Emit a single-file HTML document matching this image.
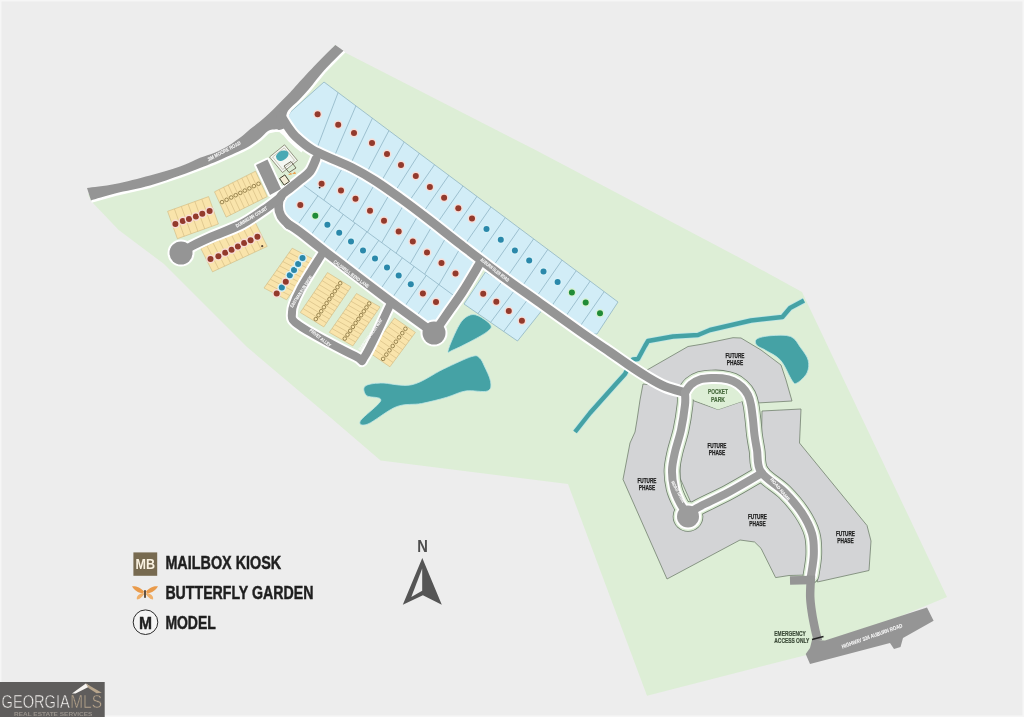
<!DOCTYPE html>
<html><head><meta charset="utf-8"><style>
html,body{margin:0;padding:0;background:#ededed;}
body{width:1024px;height:717px;overflow:hidden;position:relative;font-family:"Liberation Sans",sans-serif;}
</style></head><body>
<svg width="1024" height="717" viewBox="0 0 1024 717" style="display:block;will-change:transform;filter:blur(0.4px)">
<rect width="1024" height="717" fill="#ededed"/>
<rect x="0.5" y="0.5" width="1023" height="716" fill="none" stroke="#f6f6f6" stroke-width="2"/>
<polygon points="91.0,201.0 118.7,230.0 164.0,264.0 247.0,347.0 331.0,418.0 380.6,460.6 568.0,484.0 647.0,695.7 807.5,654.7 947.0,597.0 802.0,292.0 740.0,258.0 535.5,150.0 344.0,52.0 335.0,45.0 300.0,90.0 262.0,125.0 230.0,146.0 200.0,162.0 150.0,180.0 88.0,194.0" fill="#ddeed6" stroke="none" stroke-width="0" stroke-linejoin="round" />
<path d="M365.0,386.3 C367.4,384.2 373.0,383.3 380.8,383.0 C388.6,382.7 401.6,387.0 412.0,384.7 C422.4,382.4 433.5,373.7 443.5,369.0 C453.5,364.3 465.8,358.3 471.8,356.5 C477.8,354.7 477.5,356.4 479.6,358.0 C481.7,359.6 482.5,362.1 484.3,366.0 C486.1,369.9 490.1,377.4 490.6,381.6 C491.1,385.8 491.7,389.4 487.5,391.0 C483.3,392.6 472.3,389.9 465.5,391.0 C458.7,392.1 454.0,395.2 446.7,397.3 C439.4,399.4 430.0,401.9 421.6,403.5 C413.2,405.1 405.4,403.3 396.5,406.7 C387.6,410.1 374.0,421.6 368.0,424.0 C362.0,426.4 358.3,424.7 360.4,420.8 C362.5,416.9 379.8,404.6 380.8,400.4 C381.9,396.2 369.3,398.0 366.7,395.7 C364.1,393.4 362.6,388.4 365.0,386.3Z" fill="#45a2a5" stroke="#bfe6e6" stroke-width="0.8"/>
<path d="M448.2,350.2 C449.2,346.0 455.8,330.8 459.2,325.0 C462.6,319.2 465.5,317.2 468.6,315.7 C471.7,314.1 474.3,314.1 478.0,315.7 C481.7,317.2 489.0,322.4 490.6,325.0 C492.2,327.6 490.6,328.8 487.5,331.4 C484.4,334.0 477.6,337.7 471.8,340.8 C466.1,343.9 456.9,348.4 453.0,350.0 C449.1,351.6 447.2,354.4 448.2,350.2Z" fill="#45a2a5" stroke="#bfe6e6" stroke-width="0.8"/>
<path d="M756.8,339.0 C759.1,337.4 765.0,336.1 770.6,335.7 C776.2,335.3 785.7,334.5 790.7,336.5 C795.7,338.5 797.8,343.8 800.7,347.8 C803.6,351.8 807.2,356.1 808.2,360.3 C809.2,364.5 808.9,369.1 807.0,372.9 C805.1,376.7 799.5,381.8 797.0,383.0 C794.5,384.2 794.7,384.2 792.0,380.4 C789.3,376.6 785.0,365.3 780.6,360.3 C776.2,355.3 769.6,352.8 765.6,350.3 C761.6,347.8 758.3,347.2 756.8,345.3 C755.3,343.4 754.5,340.6 756.8,339.0Z" fill="#45a2a5" stroke="#bfe6e6" stroke-width="0.8"/>
<polyline points="804.0,300.5 790.0,308.0 782.4,317.0 751.0,320.5 710.0,330.0 698.0,335.0 673.0,336.5 648.0,341.0 645.0,346.0 638.0,359.0 633.0,359.5 629.0,366.0 625.0,374.0 615.0,385.0 590.0,413.0 575.0,432.0" fill="none" stroke="#bfe6e6" stroke-width="6" stroke-linejoin="round"/>
<polyline points="804.0,300.5 790.0,308.0 782.4,317.0 751.0,320.5 710.0,330.0 698.0,335.0 673.0,336.5 648.0,341.0 645.0,346.0 638.0,359.0 633.0,359.5 629.0,366.0 625.0,374.0 615.0,385.0 590.0,413.0 575.0,432.0" fill="none" stroke="#45a2a5" stroke-width="4.4" stroke-linejoin="round"/>
<polygon points="647.0,370.0 688.0,346.5 703.0,344.0 733.0,337.7 741.0,338.0 761.0,350.0 781.0,365.0 786.0,380.0 792.0,401.0 757.0,403.0 752.0,392.0 740.0,382.0 720.0,379.0 700.0,384.0 684.0,393.0 665.0,384.0" fill="#d3d4d6" stroke="#72826f" stroke-width="0.8" stroke-linejoin="round" />
<polygon points="643.0,384.0 640.0,400.0 637.0,420.0 635.0,432.0 630.0,443.0 623.0,479.4 667.0,579.0 740.0,540.0 754.6,542.0 761.0,548.3 775.6,577.6 789.0,575.5 808.0,575.0 808.0,540.0 795.0,505.0 770.0,478.0 760.0,472.0 690.0,512.0 676.0,480.0 678.0,420.0 680.0,396.0 660.0,386.0" fill="#d3d4d6" stroke="#72826f" stroke-width="0.8" stroke-linejoin="round" />
<polygon points="686.0,398.0 718.0,409.5 746.0,400.0 751.0,440.0 757.0,470.0 692.0,505.0 680.0,478.0 680.0,420.0" fill="#d3d4d6" stroke="#72826f" stroke-width="0.8" stroke-linejoin="round" />
<polygon points="762.0,411.0 801.0,409.0 799.5,443.0 867.0,525.5 871.0,541.0 869.0,570.5 817.4,582.0 816.0,560.0 815.0,530.0 800.0,505.0 775.0,480.0 764.0,462.0 761.5,440.0" fill="#d3d4d6" stroke="#72826f" stroke-width="0.8" stroke-linejoin="round" />
<defs>
<clipPath id="cU"><polygon points="324.0,82.0 618.0,302.0 597.0,334.0 585.0,334.0 460.0,240.0 400.0,196.0 365.0,174.0 335.0,158.0 306.0,144.0 292.0,132.0 287.6,122.0 288.0,116.0 291.0,111.5"/></clipPath>
<clipPath id="cL"><polygon points="315.0,158.0 335.0,166.0 365.0,180.0 400.0,203.0 460.0,248.0 484.0,264.0 460.0,300.0 434.0,332.0 390.0,302.0 323.0,252.0 292.0,228.0 278.0,210.0 279.0,200.0 290.0,188.0 303.0,172.0"/></clipPath>
<clipPath id="cR"><polygon points="464.0,304.0 485.5,272.0 543.0,309.0 517.5,341.0"/></clipPath>
<clipPath id="cLU"><polygon points="250.0,145.9 520.0,344.1 520.0,100.0 250.0,100.0"/></clipPath>
<clipPath id="cLL"><polygon points="250.0,145.9 520.0,344.1 520.0,400.0 250.0,400.0"/></clipPath>
</defs>
<polygon points="324.0,82.0 618.0,302.0 597.0,334.0 585.0,334.0 460.0,240.0 400.0,196.0 365.0,174.0 335.0,158.0 306.0,144.0 292.0,132.0 287.6,122.0 288.0,116.0 291.0,111.5" fill="#d2edf7" stroke="#86adbf" stroke-width="0.7" stroke-linejoin="round" />
<polygon points="315.0,158.0 335.0,166.0 365.0,180.0 400.0,203.0 460.0,248.0 484.0,264.0 460.0,300.0 434.0,332.0 390.0,302.0 323.0,252.0 292.0,228.0 278.0,210.0 279.0,200.0 290.0,188.0 303.0,172.0" fill="#d2edf7" stroke="#86adbf" stroke-width="0.7" stroke-linejoin="round" />
<polygon points="464.0,304.0 485.5,272.0 543.0,309.0 517.5,341.0" fill="#d2edf7" stroke="#86adbf" stroke-width="0.7" stroke-linejoin="round" />
<g clip-path="url(#cU)" stroke="#86adbf" stroke-width="0.7"><line x1="342.1" y1="82.1" x2="313.7" y2="156.8"/><line x1="361.8" y1="92.1" x2="330.4" y2="165.6"/><line x1="380.2" y1="101.9" x2="345.8" y2="174.1"/><line x1="398.2" y1="113.1" x2="360.8" y2="183.9"/><line x1="414.1" y1="124.9" x2="373.9" y2="194.1"/><line x1="429.9" y1="136.8" x2="386.9" y2="204.2"/><line x1="445.7" y1="148.7" x2="400.0" y2="214.3"/><line x1="459.8" y1="159.5" x2="414.2" y2="225.2"/><line x1="474.0" y1="170.2" x2="428.4" y2="235.8"/><line x1="488.0" y1="180.6" x2="442.3" y2="246.3"/><line x1="502.1" y1="191.0" x2="456.4" y2="256.6"/><line x1="516.5" y1="201.5" x2="470.8" y2="267.2"/><line x1="530.7" y1="212.3" x2="485.0" y2="277.9"/><line x1="544.9" y1="222.7" x2="499.2" y2="288.3"/><line x1="559.2" y1="233.1" x2="513.5" y2="298.8"/><line x1="573.4" y1="243.9" x2="527.7" y2="309.5"/><line x1="587.6" y1="254.4" x2="541.9" y2="320.1"/><line x1="601.6" y1="264.7" x2="556.0" y2="330.3"/><line x1="615.7" y1="275.1" x2="570.0" y2="340.7"/></g>
<g clip-path="url(#cL)">
<g clip-path="url(#cLU)" stroke="#86adbf" stroke-width="0.7"><line x1="351.4" y1="152.6" x2="311.2" y2="221.8"/><line x1="368.4" y1="160.1" x2="328.1" y2="229.3"/><line x1="382.9" y1="170.2" x2="342.6" y2="239.3"/><line x1="397.1" y1="181.1" x2="356.9" y2="250.3"/><line x1="411.5" y1="191.5" x2="371.2" y2="260.7"/><line x1="425.9" y1="202.0" x2="385.6" y2="271.1"/><line x1="440.0" y1="212.4" x2="399.8" y2="281.6"/><line x1="454.4" y1="223.1" x2="414.1" y2="292.3"/><line x1="468.6" y1="233.7" x2="428.4" y2="302.8"/></g>
<g clip-path="url(#cLL)" stroke="#86adbf" stroke-width="0.7"><line x1="330.6" y1="177.5" x2="285.0" y2="243.2"/><line x1="344.2" y1="187.4" x2="298.5" y2="253.0"/><line x1="356.1" y1="195.9" x2="310.5" y2="261.6"/><line x1="367.9" y1="204.4" x2="322.3" y2="270.0"/><line x1="379.8" y1="213.2" x2="334.2" y2="278.8"/><line x1="391.8" y1="221.6" x2="346.2" y2="287.2"/><line x1="403.8" y1="230.1" x2="358.2" y2="295.7"/><line x1="415.7" y1="238.6" x2="370.0" y2="304.3"/><line x1="427.6" y1="247.1" x2="381.9" y2="312.7"/><line x1="439.7" y1="256.1" x2="394.0" y2="321.8"/><line x1="452.3" y1="264.9" x2="406.6" y2="330.6"/></g>
</g>
<line x1="290" y1="175.3" x2="480" y2="314.8" stroke="#86adbf" stroke-width="0.7" clip-path="url(#cL)"/>
<g clip-path="url(#cR)" stroke="#86adbf" stroke-width="0.7"><line x1="513.8" y1="265.8" x2="465.8" y2="329.8"/><line x1="526.5" y1="274.4" x2="478.6" y2="338.4"/><line x1="539.4" y1="283.9" x2="491.4" y2="347.9"/></g>
<polygon points="167.6,211.3 208.6,196.6 218.4,224.0 177.4,238.7" fill="#f9e4ab" stroke="#d0b77e" stroke-width="0.6" stroke-linejoin="round" />
<g stroke="#d0b77e" stroke-width="0.6"><line x1="174.4" y1="208.9" x2="184.2" y2="236.2"/><line x1="181.3" y1="206.4" x2="191.1" y2="233.8"/><line x1="188.1" y1="203.9" x2="197.9" y2="231.4"/><line x1="194.9" y1="201.5" x2="204.7" y2="228.9"/><line x1="201.8" y1="199.1" x2="211.6" y2="226.4"/></g>
<polygon points="214.5,191.8 255.5,171.2 267.2,196.6 226.2,217.1" fill="#f9e4ab" stroke="#d0b77e" stroke-width="0.6" stroke-linejoin="round" />
<g stroke="#d0b77e" stroke-width="0.6"><line x1="219.1" y1="189.5" x2="230.8" y2="214.9"/><line x1="223.6" y1="187.2" x2="235.3" y2="212.6"/><line x1="228.2" y1="185.0" x2="239.9" y2="210.3"/><line x1="232.7" y1="182.7" x2="244.4" y2="208.0"/><line x1="237.3" y1="180.4" x2="249.0" y2="205.7"/><line x1="241.8" y1="178.1" x2="253.5" y2="203.4"/><line x1="246.4" y1="175.8" x2="258.1" y2="201.2"/><line x1="250.9" y1="173.5" x2="262.6" y2="198.9"/></g>
<circle cx="222.0" cy="202.1" r="1.8" fill="none" stroke="#7d6a35" stroke-width="0.75"/>
<circle cx="226.6" cy="199.8" r="1.8" fill="none" stroke="#7d6a35" stroke-width="0.75"/>
<circle cx="231.2" cy="197.5" r="1.8" fill="none" stroke="#7d6a35" stroke-width="0.75"/>
<circle cx="235.7" cy="195.2" r="1.8" fill="none" stroke="#7d6a35" stroke-width="0.75"/>
<circle cx="240.3" cy="192.9" r="1.8" fill="none" stroke="#7d6a35" stroke-width="0.75"/>
<circle cx="244.8" cy="190.6" r="1.8" fill="none" stroke="#7d6a35" stroke-width="0.75"/>
<circle cx="249.4" cy="188.4" r="1.8" fill="none" stroke="#7d6a35" stroke-width="0.75"/>
<circle cx="253.9" cy="186.1" r="1.8" fill="none" stroke="#7d6a35" stroke-width="0.75"/>
<circle cx="258.5" cy="183.8" r="1.8" fill="none" stroke="#7d6a35" stroke-width="0.75"/>
<polygon points="200.8,248.4 255.5,223.0 267.2,246.4 212.5,271.8" fill="#f9e4ab" stroke="#d0b77e" stroke-width="0.6" stroke-linejoin="round" />
<g stroke="#d0b77e" stroke-width="0.6"><line x1="206.9" y1="245.6" x2="218.6" y2="269.0"/><line x1="213.0" y1="242.8" x2="224.7" y2="266.2"/><line x1="219.0" y1="239.9" x2="230.7" y2="263.3"/><line x1="225.1" y1="237.1" x2="236.8" y2="260.5"/><line x1="231.2" y1="234.3" x2="242.9" y2="257.7"/><line x1="237.3" y1="231.5" x2="249.0" y2="254.9"/><line x1="243.3" y1="228.6" x2="255.0" y2="252.0"/><line x1="249.4" y1="225.8" x2="261.1" y2="249.2"/></g>
<polygon points="264.0,288.0 292.2,248.2 314.8,260.0 286.6,299.8" fill="#f9e4ab" stroke="#d0b77e" stroke-width="0.6" stroke-linejoin="round" />
<g stroke="#d0b77e" stroke-width="0.6"><line x1="267.1" y1="283.6" x2="289.7" y2="295.4"/><line x1="270.3" y1="279.2" x2="292.9" y2="291.0"/><line x1="273.4" y1="274.7" x2="296.0" y2="286.5"/><line x1="276.5" y1="270.3" x2="299.1" y2="282.1"/><line x1="279.7" y1="265.9" x2="302.3" y2="277.7"/><line x1="282.8" y1="261.5" x2="305.4" y2="273.3"/><line x1="285.9" y1="257.0" x2="308.5" y2="268.8"/><line x1="289.1" y1="252.6" x2="311.7" y2="264.4"/></g>
<polygon points="300.3,312.5 327.5,272.6 351.0,287.0 323.8,326.9" fill="#f9e4ab" stroke="#d0b77e" stroke-width="0.6" stroke-linejoin="round" />
<g stroke="#d0b77e" stroke-width="0.6"><line x1="303.0" y1="308.5" x2="326.5" y2="322.9"/><line x1="305.7" y1="304.5" x2="329.2" y2="318.9"/><line x1="308.5" y1="300.5" x2="332.0" y2="314.9"/><line x1="311.2" y1="296.5" x2="334.7" y2="310.9"/><line x1="313.9" y1="292.6" x2="337.4" y2="306.9"/><line x1="316.6" y1="288.6" x2="340.1" y2="303.0"/><line x1="319.3" y1="284.6" x2="342.8" y2="299.0"/><line x1="322.1" y1="280.6" x2="345.6" y2="295.0"/><line x1="324.8" y1="276.6" x2="348.3" y2="291.0"/></g>
<circle cx="315.8" cy="319.1" r="1.8" fill="none" stroke="#7d6a35" stroke-width="0.75"/>
<circle cx="318.5" cy="315.2" r="1.8" fill="none" stroke="#7d6a35" stroke-width="0.75"/>
<circle cx="321.2" cy="311.2" r="1.8" fill="none" stroke="#7d6a35" stroke-width="0.75"/>
<circle cx="323.9" cy="307.2" r="1.8" fill="none" stroke="#7d6a35" stroke-width="0.75"/>
<circle cx="326.6" cy="303.2" r="1.8" fill="none" stroke="#7d6a35" stroke-width="0.75"/>
<circle cx="329.4" cy="299.2" r="1.8" fill="none" stroke="#7d6a35" stroke-width="0.75"/>
<circle cx="332.1" cy="295.2" r="1.8" fill="none" stroke="#7d6a35" stroke-width="0.75"/>
<circle cx="334.8" cy="291.2" r="1.8" fill="none" stroke="#7d6a35" stroke-width="0.75"/>
<circle cx="337.5" cy="287.2" r="1.8" fill="none" stroke="#7d6a35" stroke-width="0.75"/>
<circle cx="340.2" cy="283.2" r="1.8" fill="none" stroke="#7d6a35" stroke-width="0.75"/>
<polygon points="329.3,332.4 356.5,293.5 380.0,307.0 352.8,345.9" fill="#f9e4ab" stroke="#d0b77e" stroke-width="0.6" stroke-linejoin="round" />
<g stroke="#d0b77e" stroke-width="0.6"><line x1="332.0" y1="328.5" x2="355.5" y2="342.0"/><line x1="334.7" y1="324.6" x2="358.2" y2="338.1"/><line x1="337.5" y1="320.7" x2="361.0" y2="334.2"/><line x1="340.2" y1="316.8" x2="363.7" y2="330.3"/><line x1="342.9" y1="312.9" x2="366.4" y2="326.4"/><line x1="345.6" y1="309.1" x2="369.1" y2="322.6"/><line x1="348.3" y1="305.2" x2="371.8" y2="318.7"/><line x1="351.1" y1="301.3" x2="374.6" y2="314.8"/><line x1="353.8" y1="297.4" x2="377.3" y2="310.9"/></g>
<circle cx="344.8" cy="338.6" r="1.8" fill="none" stroke="#7d6a35" stroke-width="0.75"/>
<circle cx="347.5" cy="334.7" r="1.8" fill="none" stroke="#7d6a35" stroke-width="0.75"/>
<circle cx="350.2" cy="330.8" r="1.8" fill="none" stroke="#7d6a35" stroke-width="0.75"/>
<circle cx="352.9" cy="326.9" r="1.8" fill="none" stroke="#7d6a35" stroke-width="0.75"/>
<circle cx="355.6" cy="323.0" r="1.8" fill="none" stroke="#7d6a35" stroke-width="0.75"/>
<circle cx="358.4" cy="319.1" r="1.8" fill="none" stroke="#7d6a35" stroke-width="0.75"/>
<circle cx="361.1" cy="315.2" r="1.8" fill="none" stroke="#7d6a35" stroke-width="0.75"/>
<circle cx="363.8" cy="311.3" r="1.8" fill="none" stroke="#7d6a35" stroke-width="0.75"/>
<circle cx="366.5" cy="307.4" r="1.8" fill="none" stroke="#7d6a35" stroke-width="0.75"/>
<circle cx="369.2" cy="303.5" r="1.8" fill="none" stroke="#7d6a35" stroke-width="0.75"/>
<polygon points="369.0,352.4 394.5,318.0 415.4,332.4 389.9,366.8" fill="#f9e4ab" stroke="#d0b77e" stroke-width="0.6" stroke-linejoin="round" />
<g stroke="#d0b77e" stroke-width="0.6"><line x1="372.2" y1="348.1" x2="393.1" y2="362.5"/><line x1="375.4" y1="343.8" x2="396.3" y2="358.2"/><line x1="378.6" y1="339.5" x2="399.5" y2="353.9"/><line x1="381.8" y1="335.2" x2="402.6" y2="349.6"/><line x1="384.9" y1="330.9" x2="405.8" y2="345.3"/><line x1="388.1" y1="326.6" x2="409.0" y2="341.0"/><line x1="391.3" y1="322.3" x2="412.2" y2="336.7"/></g>
<circle cx="383.1" cy="358.9" r="1.8" fill="none" stroke="#7d6a35" stroke-width="0.75"/>
<circle cx="386.3" cy="354.6" r="1.8" fill="none" stroke="#7d6a35" stroke-width="0.75"/>
<circle cx="389.5" cy="350.3" r="1.8" fill="none" stroke="#7d6a35" stroke-width="0.75"/>
<circle cx="392.7" cy="346.0" r="1.8" fill="none" stroke="#7d6a35" stroke-width="0.75"/>
<circle cx="395.9" cy="341.7" r="1.8" fill="none" stroke="#7d6a35" stroke-width="0.75"/>
<circle cx="399.1" cy="337.4" r="1.8" fill="none" stroke="#7d6a35" stroke-width="0.75"/>
<circle cx="402.3" cy="333.1" r="1.8" fill="none" stroke="#7d6a35" stroke-width="0.75"/>
<circle cx="405.4" cy="328.8" r="1.8" fill="none" stroke="#7d6a35" stroke-width="0.75"/>
<path d="M685.0,392.5 C686.0,391.2 688.5,386.7 691.0,384.5 C693.5,382.3 696.5,380.6 700.0,379.5 C703.5,378.4 708.3,378.2 712.0,378.0 C715.7,377.8 718.5,377.8 722.0,378.3 C725.5,378.8 729.7,379.6 733.0,381.0 C736.3,382.4 739.5,384.7 742.0,387.0 C744.5,389.3 746.5,392.0 748.0,395.0 C749.5,398.0 750.2,400.8 751.0,405.0 C751.8,409.2 752.4,415.0 753.0,420.0 C753.6,425.0 753.8,430.0 754.5,435.0 C755.2,440.0 755.9,443.8 757.0,450.0 C758.1,456.2 756.4,465.0 761.0,472.0 C765.6,479.0 777.7,485.2 784.5,492.0 C791.3,498.8 797.2,505.8 801.8,512.8 C806.4,519.8 810.0,526.7 812.0,533.7 C814.0,540.7 814.0,547.6 813.8,554.6 C813.6,561.6 811.5,572.0 811.0,575.5" fill="none" stroke="#72826f" stroke-width="16.6" stroke-linejoin="round" stroke-linecap="round"/>
<path d="M685.0,392.5 C685.0,394.6 685.7,398.8 685.0,405.0 C684.3,411.2 682.7,422.2 681.0,430.0 C679.3,437.8 676.5,445.3 675.0,452.0 C673.5,458.7 672.2,464.0 672.0,470.0 C671.8,476.0 672.7,482.5 674.0,488.0 C675.3,493.5 677.7,498.5 680.0,503.0 C682.3,507.5 686.7,513.0 688.0,515.0" fill="none" stroke="#72826f" stroke-width="16.6" stroke-linejoin="round" stroke-linecap="round"/>
<path d="M688.0,515.0 C689.5,513.8 690.2,511.8 697.0,508.0 C703.8,504.2 718.2,497.8 729.0,492.0 C739.8,486.2 756.5,476.2 762.0,473.0" fill="none" stroke="#72826f" stroke-width="16.6" stroke-linejoin="round" stroke-linecap="round"/>
<circle cx="688" cy="516.5" r="15.3" fill="#72826f"/>
<path d="M685.0,392.5 C686.0,391.2 688.5,386.7 691.0,384.5 C693.5,382.3 696.5,380.6 700.0,379.5 C703.5,378.4 708.3,378.2 712.0,378.0 C715.7,377.8 718.5,377.8 722.0,378.3 C725.5,378.8 729.7,379.6 733.0,381.0 C736.3,382.4 739.5,384.7 742.0,387.0 C744.5,389.3 746.5,392.0 748.0,395.0 C749.5,398.0 750.2,400.8 751.0,405.0 C751.8,409.2 752.4,415.0 753.0,420.0 C753.6,425.0 753.8,430.0 754.5,435.0 C755.2,440.0 755.9,443.8 757.0,450.0 C758.1,456.2 756.4,465.0 761.0,472.0 C765.6,479.0 777.7,485.2 784.5,492.0 C791.3,498.8 797.2,505.8 801.8,512.8 C806.4,519.8 810.0,526.7 812.0,533.7 C814.0,540.7 814.0,547.6 813.8,554.6 C813.6,561.6 811.5,572.0 811.0,575.5" fill="none" stroke="#ddeed6" stroke-width="15.0" stroke-linejoin="round" stroke-linecap="round"/>
<path d="M685.0,392.5 C685.0,394.6 685.7,398.8 685.0,405.0 C684.3,411.2 682.7,422.2 681.0,430.0 C679.3,437.8 676.5,445.3 675.0,452.0 C673.5,458.7 672.2,464.0 672.0,470.0 C671.8,476.0 672.7,482.5 674.0,488.0 C675.3,493.5 677.7,498.5 680.0,503.0 C682.3,507.5 686.7,513.0 688.0,515.0" fill="none" stroke="#ddeed6" stroke-width="15.0" stroke-linejoin="round" stroke-linecap="round"/>
<path d="M688.0,515.0 C689.5,513.8 690.2,511.8 697.0,508.0 C703.8,504.2 718.2,497.8 729.0,492.0 C739.8,486.2 756.5,476.2 762.0,473.0" fill="none" stroke="#ddeed6" stroke-width="15.0" stroke-linejoin="round" stroke-linecap="round"/>
<circle cx="688" cy="516.5" r="14.5" fill="#ddeed6"/>
<polygon points="690.0,398.0 718.0,409.5 746.0,400.0 747.0,392.0 740.0,385.0 730.0,382.0 720.0,381.0 708.0,382.0 697.0,387.0 690.0,393.0" fill="#ddeed6" stroke="none" stroke-width="0" stroke-linejoin="round" />
<polyline points="303.0,150.5 296.0,145.0 290.0,139.5 285.0,133.5 281.5,130.5 280.5,129.8 276.0,129.2 268.0,131.0 260.0,138.5 250.0,145.7 241.8,150.0 228.0,156.3 214.0,162.5 200.0,168.0 180.0,175.5 150.0,185.5 115.0,193.5 91.0,200.4" fill="none" stroke="#fff" stroke-width="5.0" stroke-linejoin="round"/>
<polyline points="343.5,50.7 324.0,70.5 309.0,89.0 299.0,100.0 289.5,109.0 286.5,114.5 286.5,120.5 289.0,125.5" fill="none" stroke="#fff" stroke-width="5.0" stroke-linejoin="round"/>
<path d="M281.0,116.0 C282.2,117.8 285.6,123.6 288.0,127.0 C290.4,130.4 291.5,132.8 295.5,136.5 C299.5,140.2 305.7,145.7 312.0,149.5 C318.3,153.3 326.8,156.5 333.5,159.5 C340.2,162.5 345.1,164.1 352.0,167.6 C358.9,171.1 367.0,175.6 375.0,180.7 C383.0,185.8 390.8,191.4 400.0,198.0 C409.2,204.6 420.0,212.8 430.0,220.5 C440.0,228.2 448.3,235.0 460.0,244.0 C471.7,253.0 486.7,264.7 500.0,274.5 C513.3,284.3 526.7,293.5 540.0,303.0 C553.3,312.5 568.3,323.3 580.0,331.5 C591.7,339.7 602.0,346.5 610.0,352.0 C618.0,357.5 621.9,360.4 628.0,364.5 C634.1,368.6 640.3,372.8 646.5,376.5 C652.7,380.2 658.6,383.8 665.0,386.5 C671.4,389.2 681.7,391.5 685.0,392.5" fill="none" stroke="#fff" stroke-width="12.8" stroke-linejoin="round" stroke-linecap="round"/>
<path d="M316.0,159.0 C315.0,161.1 312.6,168.1 310.0,171.5 C307.4,174.9 304.0,176.9 300.6,179.7 C297.2,182.5 293.0,185.8 289.7,188.5 C286.4,191.2 282.9,193.1 281.0,196.0 C279.1,198.9 278.5,202.7 278.5,206.0 C278.5,209.3 279.2,212.8 281.0,216.0 C282.8,219.2 287.7,223.5 289.0,225.0" fill="none" stroke="#fff" stroke-width="12.8" stroke-linejoin="round" stroke-linecap="round"/>
<path d="M281.0,197.0 C278.8,198.7 274.5,202.5 268.0,207.0 C261.5,211.5 251.5,219.0 242.0,224.0 C232.5,229.0 219.3,233.3 211.0,237.0 C202.7,240.7 197.0,243.3 192.0,246.0 C187.0,248.7 182.8,251.8 181.0,253.0" fill="none" stroke="#fff" stroke-width="12.8" stroke-linejoin="round" stroke-linecap="round"/>
<path d="M288.0,224.0 C290.0,225.3 294.2,227.7 300.0,232.0 C305.8,236.3 308.0,238.5 323.0,250.0 C338.0,261.5 371.5,287.2 390.0,301.0 C408.5,314.8 426.7,327.7 434.0,333.0" fill="none" stroke="#fff" stroke-width="12.8" stroke-linejoin="round" stroke-linecap="round"/>
<path d="M434.0,333.0 C436.4,329.5 443.8,318.8 448.5,312.0 C453.2,305.2 457.2,300.2 462.5,292.0 C467.8,283.8 477.1,267.8 480.0,263.0" fill="none" stroke="#fff" stroke-width="12.8" stroke-linejoin="round" stroke-linecap="round"/>
<path d="M322.0,254.0 C318.3,260.0 305.0,280.3 300.0,290.0 C295.0,299.7 292.0,306.0 292.0,312.0 C292.0,318.0 289.5,318.7 300.0,326.0 C310.5,333.3 344.2,351.0 355.0,356.0 C365.8,361.0 359.2,364.5 365.0,356.0 C370.8,347.5 385.8,313.5 390.0,305.0" fill="none" stroke="#fff" stroke-width="12.0" stroke-linejoin="round" stroke-linecap="round"/>
<path d="M685.0,392.5 C686.0,391.2 688.5,386.7 691.0,384.5 C693.5,382.3 696.5,380.6 700.0,379.5 C703.5,378.4 708.3,378.2 712.0,378.0 C715.7,377.8 718.5,377.8 722.0,378.3 C725.5,378.8 729.7,379.6 733.0,381.0 C736.3,382.4 739.5,384.7 742.0,387.0 C744.5,389.3 746.5,392.0 748.0,395.0 C749.5,398.0 750.2,400.8 751.0,405.0 C751.8,409.2 752.4,415.0 753.0,420.0 C753.6,425.0 753.8,430.0 754.5,435.0 C755.2,440.0 755.9,443.8 757.0,450.0 C758.1,456.2 756.4,465.0 761.0,472.0 C765.6,479.0 777.7,485.2 784.5,492.0 C791.3,498.8 797.2,505.8 801.8,512.8 C806.4,519.8 810.0,526.7 812.0,533.7 C814.0,540.7 814.0,547.6 813.8,554.6 C813.6,561.6 811.5,572.0 811.0,575.5" fill="none" stroke="#fff" stroke-width="12.0" stroke-linejoin="round" stroke-linecap="round"/>
<path d="M685.0,392.5 C685.0,394.6 685.7,398.8 685.0,405.0 C684.3,411.2 682.7,422.2 681.0,430.0 C679.3,437.8 676.5,445.3 675.0,452.0 C673.5,458.7 672.2,464.0 672.0,470.0 C671.8,476.0 672.7,482.5 674.0,488.0 C675.3,493.5 677.7,498.5 680.0,503.0 C682.3,507.5 686.7,513.0 688.0,515.0" fill="none" stroke="#fff" stroke-width="12.0" stroke-linejoin="round" stroke-linecap="round"/>
<path d="M688.0,515.0 C689.5,513.8 690.2,511.8 697.0,508.0 C703.8,504.2 718.2,497.8 729.0,492.0 C739.8,486.2 756.5,476.2 762.0,473.0" fill="none" stroke="#fff" stroke-width="12.0" stroke-linejoin="round" stroke-linecap="round"/>
<circle cx="181" cy="253" r="13.5" fill="#fff"/>
<circle cx="434" cy="333" r="13.5" fill="#fff"/>
<circle cx="688" cy="516.5" r="13.0" fill="#fff"/>
<polygon points="256.0,165.0 267.5,159.5 281.0,189.0 270.0,195.0" fill="#fff" stroke="#fff" stroke-width="4.0" stroke-linejoin="round" />
<path d="M87,188 C91.7,187.3 104.5,186.1 115.0,184.0 C125.5,181.9 139.2,178.4 150.0,175.5 C160.8,172.6 171.7,169.4 180.0,166.5 C188.3,163.6 194.3,160.1 200.0,157.8 C205.7,155.5 209.3,154.9 214.0,152.9 C218.7,150.9 223.3,148.7 228.0,145.9 C232.7,143.1 238.3,139.0 242.0,136.2 C245.7,133.4 247.1,131.6 250.0,129.2 C252.9,126.8 256.3,124.6 259.4,122.0 C262.5,119.4 265.7,116.7 268.8,113.8 C271.9,110.9 275.1,107.5 278.2,104.4 C281.3,101.3 284.4,98.4 287.6,95.0 C290.9,91.6 292.9,89.1 297.7,83.9 C302.5,78.7 310.2,70.3 316.5,63.8 C322.8,57.3 332.2,48.1 335.3,45.0 L343.5,50.7 C340.2,54.0 329.8,64.1 324.0,70.5 C318.2,76.9 313.2,84.1 309.0,89.0 C304.8,93.9 302.2,96.7 299.0,100.0 C295.8,103.3 291.6,106.6 289.5,109.0 C287.4,111.4 287.0,112.6 286.5,114.5 C286.0,116.4 286.1,118.7 286.5,120.5 C286.9,122.3 290.0,124.0 289.0,125.5 C288.0,127.0 282.7,129.2 280.5,129.8 C278.3,130.4 278.1,129.0 276.0,129.2 C273.9,129.4 270.7,129.4 268.0,131.0 C265.3,132.6 263.0,136.1 260.0,138.5 C257.0,140.9 253.0,143.8 250.0,145.7 C247.0,147.6 245.5,148.2 241.8,150.0 C238.1,151.8 232.6,154.2 228.0,156.3 C223.4,158.4 218.7,160.6 214.0,162.5 C209.3,164.4 205.7,165.8 200.0,168.0 C194.3,170.2 188.3,172.6 180.0,175.5 C171.7,178.4 160.8,182.5 150.0,185.5 C139.2,188.5 124.8,191.0 115.0,193.5 C105.2,196.0 95.0,199.2 91.0,200.4 Z" fill="#959595"/>
<path d="M281.0,116.0 C282.2,117.8 285.6,123.6 288.0,127.0 C290.4,130.4 291.5,132.8 295.5,136.5 C299.5,140.2 305.7,145.7 312.0,149.5 C318.3,153.3 326.8,156.5 333.5,159.5 C340.2,162.5 345.1,164.1 352.0,167.6 C358.9,171.1 367.0,175.6 375.0,180.7 C383.0,185.8 390.8,191.4 400.0,198.0 C409.2,204.6 420.0,212.8 430.0,220.5 C440.0,228.2 448.3,235.0 460.0,244.0 C471.7,253.0 486.7,264.7 500.0,274.5 C513.3,284.3 526.7,293.5 540.0,303.0 C553.3,312.5 568.3,323.3 580.0,331.5 C591.7,339.7 602.0,346.5 610.0,352.0 C618.0,357.5 621.9,360.4 628.0,364.5 C634.1,368.6 640.3,372.8 646.5,376.5 C652.7,380.2 658.6,383.8 665.0,386.5 C671.4,389.2 681.7,391.5 685.0,392.5" fill="none" stroke="#959595" stroke-width="8.8" stroke-linejoin="round" stroke-linecap="round"/>
<path d="M316.0,159.0 C315.0,161.1 312.6,168.1 310.0,171.5 C307.4,174.9 304.0,176.9 300.6,179.7 C297.2,182.5 293.0,185.8 289.7,188.5 C286.4,191.2 282.9,193.1 281.0,196.0 C279.1,198.9 278.5,202.7 278.5,206.0 C278.5,209.3 279.2,212.8 281.0,216.0 C282.8,219.2 287.7,223.5 289.0,225.0" fill="none" stroke="#959595" stroke-width="8.8" stroke-linejoin="round" stroke-linecap="round"/>
<path d="M281.0,197.0 C278.8,198.7 274.5,202.5 268.0,207.0 C261.5,211.5 251.5,219.0 242.0,224.0 C232.5,229.0 219.3,233.3 211.0,237.0 C202.7,240.7 197.0,243.3 192.0,246.0 C187.0,248.7 182.8,251.8 181.0,253.0" fill="none" stroke="#959595" stroke-width="8.8" stroke-linejoin="round" stroke-linecap="round"/>
<path d="M288.0,224.0 C290.0,225.3 294.2,227.7 300.0,232.0 C305.8,236.3 308.0,238.5 323.0,250.0 C338.0,261.5 371.5,287.2 390.0,301.0 C408.5,314.8 426.7,327.7 434.0,333.0" fill="none" stroke="#959595" stroke-width="8.8" stroke-linejoin="round" stroke-linecap="round"/>
<path d="M434.0,333.0 C436.4,329.5 443.8,318.8 448.5,312.0 C453.2,305.2 457.2,300.2 462.5,292.0 C467.8,283.8 477.1,267.8 480.0,263.0" fill="none" stroke="#959595" stroke-width="8.8" stroke-linejoin="round" stroke-linecap="round"/>
<path d="M322.0,254.0 C318.3,260.0 305.0,280.3 300.0,290.0 C295.0,299.7 292.0,306.0 292.0,312.0 C292.0,318.0 289.5,318.7 300.0,326.0 C310.5,333.3 344.2,351.0 355.0,356.0 C365.8,361.0 359.2,364.5 365.0,356.0 C370.8,347.5 385.8,313.5 390.0,305.0" fill="none" stroke="#959595" stroke-width="8" stroke-linejoin="round" stroke-linecap="round"/>
<path d="M685.0,392.5 C686.0,391.2 688.5,386.7 691.0,384.5 C693.5,382.3 696.5,380.6 700.0,379.5 C703.5,378.4 708.3,378.2 712.0,378.0 C715.7,377.8 718.5,377.8 722.0,378.3 C725.5,378.8 729.7,379.6 733.0,381.0 C736.3,382.4 739.5,384.7 742.0,387.0 C744.5,389.3 746.5,392.0 748.0,395.0 C749.5,398.0 750.2,400.8 751.0,405.0 C751.8,409.2 752.4,415.0 753.0,420.0 C753.6,425.0 753.8,430.0 754.5,435.0 C755.2,440.0 755.9,443.8 757.0,450.0 C758.1,456.2 756.4,465.0 761.0,472.0 C765.6,479.0 777.7,485.2 784.5,492.0 C791.3,498.8 797.2,505.8 801.8,512.8 C806.4,519.8 810.0,526.7 812.0,533.7 C814.0,540.7 814.0,547.6 813.8,554.6 C813.6,561.6 811.5,572.0 811.0,575.5" fill="none" stroke="#9c9c9c" stroke-width="8" stroke-linejoin="round" stroke-linecap="round"/>
<path d="M685.0,392.5 C685.0,394.6 685.7,398.8 685.0,405.0 C684.3,411.2 682.7,422.2 681.0,430.0 C679.3,437.8 676.5,445.3 675.0,452.0 C673.5,458.7 672.2,464.0 672.0,470.0 C671.8,476.0 672.7,482.5 674.0,488.0 C675.3,493.5 677.7,498.5 680.0,503.0 C682.3,507.5 686.7,513.0 688.0,515.0" fill="none" stroke="#9c9c9c" stroke-width="8" stroke-linejoin="round" stroke-linecap="round"/>
<path d="M688.0,515.0 C689.5,513.8 690.2,511.8 697.0,508.0 C703.8,504.2 718.2,497.8 729.0,492.0 C739.8,486.2 756.5,476.2 762.0,473.0" fill="none" stroke="#9c9c9c" stroke-width="8" stroke-linejoin="round" stroke-linecap="round"/>
<circle cx="181" cy="253" r="11.5" fill="#959595"/>
<circle cx="434" cy="333" r="11.5" fill="#959595"/>
<circle cx="688" cy="516.5" r="11" fill="#9c9c9c"/>
<polygon points="256.0,165.0 267.5,159.5 281.0,189.0 270.0,195.0" fill="#959595" stroke="none" stroke-width="0" stroke-linejoin="round" />
<path d="M811.0,575.5 C810.9,579.0 810.0,590.3 810.2,596.6 C810.4,602.9 811.2,607.7 812.0,613.2 C812.8,618.7 814.2,625.2 815.2,629.8 C816.2,634.4 817.5,639.1 818.0,641.0" fill="none" stroke="#959595" stroke-width="8.5" stroke-linejoin="round" stroke-linecap="butt"/>
<path d="M811,580 L790,580.5" fill="none" stroke="#959595" stroke-width="8.5" stroke-linejoin="round" stroke-linecap="butt"/>
<polygon points="269.5,157 284.5,144.8 297.5,160.5 282.5,172.5" fill="#f4f7f2" stroke="#6d6a55" stroke-width="0.7"/>
<polygon points="272.5,157 284.3,147.8 294.5,160.3 282.7,169.5" fill="none" stroke="#a09a80" stroke-width="0.5"/>
<path d="M276,156 C278,151 284,149 288,152 C290,155 286,160 281,161 C278,161 276,159 276,156Z" fill="#4aa9b4"/>
<polygon points="284,166 291,161.5 296,168 289,172.5" fill="none" stroke="#55513f" stroke-width="0.8"/>
<rect x="-3.2" y="-4" width="6.4" height="8" transform="translate(284.5,180) rotate(-35)" fill="#f3ecd5" stroke="#3d3a2a" stroke-width="0.9"/>
<path d="M288,175 l3,-2.5 l1,2 z M292,174 l3,-2.5 l1,2.5 z" fill="#e9a04f"/>
<polygon points="812.0,640.0 825.0,640.6 927.0,607.4 933.6,620.7 903.0,638.0 900.5,647.0 894.0,649.0 890.0,643.0 810.0,664.0 805.7,654.0 810.0,648.0" fill="#959595" stroke="none" stroke-width="0" stroke-linejoin="round" />
<line x1="812" y1="639.5" x2="823.5" y2="636.5" stroke="#222" stroke-width="1.4"/>
<circle cx="317.6" cy="114.2" r="4.4" fill="#f7dcd6"/><circle cx="317.6" cy="114.2" r="3.0" fill="#933a2c"/>
<circle cx="338.2" cy="124.7" r="4.4" fill="#f7dcd6"/><circle cx="338.2" cy="124.7" r="3.0" fill="#933a2c"/>
<circle cx="354.0" cy="133.0" r="4.4" fill="#f7dcd6"/><circle cx="354.0" cy="133.0" r="3.0" fill="#933a2c"/>
<circle cx="372.0" cy="143.0" r="4.4" fill="#f7dcd6"/><circle cx="372.0" cy="143.0" r="3.0" fill="#933a2c"/>
<circle cx="387.0" cy="154.0" r="4.4" fill="#f7dcd6"/><circle cx="387.0" cy="154.0" r="3.0" fill="#933a2c"/>
<circle cx="401.0" cy="165.0" r="4.4" fill="#f7dcd6"/><circle cx="401.0" cy="165.0" r="3.0" fill="#933a2c"/>
<circle cx="415.8" cy="176.0" r="4.4" fill="#f7dcd6"/><circle cx="415.8" cy="176.0" r="3.0" fill="#933a2c"/>
<circle cx="429.9" cy="187.0" r="4.4" fill="#f7dcd6"/><circle cx="429.9" cy="187.0" r="3.0" fill="#933a2c"/>
<circle cx="444.1" cy="197.7" r="4.4" fill="#f7dcd6"/><circle cx="444.1" cy="197.7" r="3.0" fill="#933a2c"/>
<circle cx="458.3" cy="208.3" r="4.4" fill="#f7dcd6"/><circle cx="458.3" cy="208.3" r="3.0" fill="#933a2c"/>
<circle cx="472.0" cy="218.6" r="4.4" fill="#f7dcd6"/><circle cx="472.0" cy="218.6" r="3.0" fill="#933a2c"/>
<circle cx="486.5" cy="229.0" r="4.4" fill="#d6f1f8"/><circle cx="486.5" cy="229.0" r="3.0" fill="#2a88aa"/>
<circle cx="500.8" cy="239.7" r="4.4" fill="#d6f1f8"/><circle cx="500.8" cy="239.7" r="3.0" fill="#2a88aa"/>
<circle cx="514.9" cy="250.5" r="4.4" fill="#d6f1f8"/><circle cx="514.9" cy="250.5" r="3.0" fill="#2a88aa"/>
<circle cx="529.2" cy="260.5" r="4.4" fill="#d6f1f8"/><circle cx="529.2" cy="260.5" r="3.0" fill="#2a88aa"/>
<circle cx="543.5" cy="271.4" r="4.4" fill="#d6f1f8"/><circle cx="543.5" cy="271.4" r="3.0" fill="#2a88aa"/>
<circle cx="557.6" cy="282.0" r="4.4" fill="#d6f1f8"/><circle cx="557.6" cy="282.0" r="3.0" fill="#2a88aa"/>
<circle cx="571.9" cy="292.5" r="4.4" fill="#d6f0d6"/><circle cx="571.9" cy="292.5" r="3.0" fill="#208b36"/>
<circle cx="585.7" cy="302.5" r="4.4" fill="#d6f0d6"/><circle cx="585.7" cy="302.5" r="3.0" fill="#208b36"/>
<circle cx="600.0" cy="313.3" r="4.4" fill="#d6f0d6"/><circle cx="600.0" cy="313.3" r="3.0" fill="#208b36"/>
<circle cx="321.6" cy="183.8" r="4.4" fill="#f7dcd6"/><circle cx="321.6" cy="183.8" r="3.0" fill="#933a2c"/>
<circle cx="341.0" cy="190.6" r="4.4" fill="#f7dcd6"/><circle cx="341.0" cy="190.6" r="3.0" fill="#933a2c"/>
<circle cx="355.5" cy="198.8" r="4.4" fill="#f7dcd6"/><circle cx="355.5" cy="198.8" r="3.0" fill="#933a2c"/>
<circle cx="370.0" cy="210.7" r="4.4" fill="#f7dcd6"/><circle cx="370.0" cy="210.7" r="3.0" fill="#933a2c"/>
<circle cx="384.0" cy="220.7" r="4.4" fill="#f7dcd6"/><circle cx="384.0" cy="220.7" r="3.0" fill="#933a2c"/>
<circle cx="398.7" cy="231.5" r="4.4" fill="#f7dcd6"/><circle cx="398.7" cy="231.5" r="3.0" fill="#933a2c"/>
<circle cx="412.8" cy="241.6" r="4.4" fill="#f7dcd6"/><circle cx="412.8" cy="241.6" r="3.0" fill="#933a2c"/>
<circle cx="427.0" cy="252.4" r="4.4" fill="#f7dcd6"/><circle cx="427.0" cy="252.4" r="3.0" fill="#933a2c"/>
<circle cx="441.5" cy="263.0" r="4.4" fill="#f7dcd6"/><circle cx="441.5" cy="263.0" r="3.0" fill="#933a2c"/>
<circle cx="455.5" cy="273.5" r="4.4" fill="#f7dcd6"/><circle cx="455.5" cy="273.5" r="3.0" fill="#933a2c"/>
<circle cx="300.3" cy="205.0" r="4.4" fill="#f7dcd6"/><circle cx="300.3" cy="205.0" r="3.0" fill="#933a2c"/>
<circle cx="315.3" cy="215.7" r="4.4" fill="#d6f0d6"/><circle cx="315.3" cy="215.7" r="3.0" fill="#208b36"/>
<circle cx="327.4" cy="224.7" r="4.4" fill="#d6f1f8"/><circle cx="327.4" cy="224.7" r="3.0" fill="#2a88aa"/>
<circle cx="339.2" cy="232.8" r="4.4" fill="#d6f1f8"/><circle cx="339.2" cy="232.8" r="3.0" fill="#2a88aa"/>
<circle cx="351.0" cy="241.6" r="4.4" fill="#d6f1f8"/><circle cx="351.0" cy="241.6" r="3.0" fill="#2a88aa"/>
<circle cx="363.0" cy="250.4" r="4.4" fill="#d6f1f8"/><circle cx="363.0" cy="250.4" r="3.0" fill="#2a88aa"/>
<circle cx="375.0" cy="258.4" r="4.4" fill="#d6f1f8"/><circle cx="375.0" cy="258.4" r="3.0" fill="#2a88aa"/>
<circle cx="387.0" cy="267.4" r="4.4" fill="#d6f1f8"/><circle cx="387.0" cy="267.4" r="3.0" fill="#2a88aa"/>
<circle cx="398.7" cy="275.5" r="4.4" fill="#d6f1f8"/><circle cx="398.7" cy="275.5" r="3.0" fill="#2a88aa"/>
<circle cx="410.8" cy="284.3" r="4.4" fill="#d6f1f8"/><circle cx="410.8" cy="284.3" r="3.0" fill="#2a88aa"/>
<circle cx="422.9" cy="293.6" r="4.4" fill="#f7dcd6"/><circle cx="422.9" cy="293.6" r="3.0" fill="#933a2c"/>
<circle cx="436.0" cy="301.9" r="4.4" fill="#f7dcd6"/><circle cx="436.0" cy="301.9" r="3.0" fill="#933a2c"/>
<circle cx="483.2" cy="293.7" r="4.4" fill="#f7dcd6"/><circle cx="483.2" cy="293.7" r="3.0" fill="#933a2c"/>
<circle cx="496.3" cy="301.8" r="4.4" fill="#f7dcd6"/><circle cx="496.3" cy="301.8" r="3.0" fill="#933a2c"/>
<circle cx="508.8" cy="311.0" r="4.4" fill="#f7dcd6"/><circle cx="508.8" cy="311.0" r="3.0" fill="#933a2c"/>
<circle cx="521.9" cy="320.8" r="4.4" fill="#f7dcd6"/><circle cx="521.9" cy="320.8" r="3.0" fill="#933a2c"/>
<circle cx="175.4" cy="224.0" r="4.4" fill="#f7dcd6"/><circle cx="175.4" cy="224.0" r="3.0" fill="#933a2c"/>
<circle cx="182.8" cy="221.0" r="4.4" fill="#f7dcd6"/><circle cx="182.8" cy="221.0" r="3.0" fill="#933a2c"/>
<circle cx="189.0" cy="219.0" r="4.4" fill="#f7dcd6"/><circle cx="189.0" cy="219.0" r="3.0" fill="#933a2c"/>
<circle cx="195.9" cy="216.6" r="4.4" fill="#f7dcd6"/><circle cx="195.9" cy="216.6" r="3.0" fill="#933a2c"/>
<circle cx="202.3" cy="213.8" r="4.4" fill="#f7dcd6"/><circle cx="202.3" cy="213.8" r="3.0" fill="#933a2c"/>
<circle cx="209.6" cy="210.9" r="4.4" fill="#f7dcd6"/><circle cx="209.6" cy="210.9" r="3.0" fill="#933a2c"/>
<circle cx="210.5" cy="259.0" r="4.4" fill="#f7dcd6"/><circle cx="210.5" cy="259.0" r="3.0" fill="#933a2c"/>
<circle cx="218.4" cy="256.2" r="4.4" fill="#f7dcd6"/><circle cx="218.4" cy="256.2" r="3.0" fill="#933a2c"/>
<circle cx="225.2" cy="252.7" r="4.4" fill="#f7dcd6"/><circle cx="225.2" cy="252.7" r="3.0" fill="#933a2c"/>
<circle cx="231.6" cy="249.8" r="4.4" fill="#f7dcd6"/><circle cx="231.6" cy="249.8" r="3.0" fill="#933a2c"/>
<circle cx="237.9" cy="246.4" r="4.4" fill="#f7dcd6"/><circle cx="237.9" cy="246.4" r="3.0" fill="#933a2c"/>
<circle cx="244.1" cy="243.0" r="4.4" fill="#f7dcd6"/><circle cx="244.1" cy="243.0" r="3.0" fill="#933a2c"/>
<circle cx="250.6" cy="240.2" r="4.4" fill="#f7dcd6"/><circle cx="250.6" cy="240.2" r="3.0" fill="#933a2c"/>
<circle cx="257.4" cy="236.7" r="4.4" fill="#f7dcd6"/><circle cx="257.4" cy="236.7" r="3.0" fill="#933a2c"/>
<circle cx="276.7" cy="293.5" r="4.4" fill="#f7dcd6"/><circle cx="276.7" cy="293.5" r="3.0" fill="#933a2c"/>
<circle cx="281.8" cy="287.5" r="4.4" fill="#d6f1f8"/><circle cx="281.8" cy="287.5" r="3.0" fill="#2a88aa"/>
<circle cx="285.8" cy="281.7" r="4.4" fill="#f7dcd6"/><circle cx="285.8" cy="281.7" r="3.0" fill="#933a2c"/>
<circle cx="289.8" cy="275.3" r="4.4" fill="#d6f1f8"/><circle cx="289.8" cy="275.3" r="3.0" fill="#2a88aa"/>
<circle cx="294.0" cy="270.0" r="4.4" fill="#d6f1f8"/><circle cx="294.0" cy="270.0" r="3.0" fill="#2a88aa"/>
<circle cx="298.1" cy="264.1" r="4.4" fill="#d6f1f8"/><circle cx="298.1" cy="264.1" r="3.0" fill="#2a88aa"/>
<circle cx="302.5" cy="258.1" r="4.4" fill="#d6f1f8"/><circle cx="302.5" cy="258.1" r="3.0" fill="#2a88aa"/>
<circle cx="319.6" cy="187.6" r="0.9" fill="#222"/><circle cx="262.2" cy="246.2" r="1.1" fill="#5a4a3a"/>
<text x="735" y="357.5" font-family="Liberation Sans, sans-serif" font-size="6.8" font-weight="bold" fill="#1e1e1e" text-anchor="middle" textLength="19" lengthAdjust="spacingAndGlyphs" stroke="#1e1e1e" stroke-width="0.25" >FUTURE</text>
<text x="735" y="364.5" font-family="Liberation Sans, sans-serif" font-size="6.8" font-weight="bold" fill="#1e1e1e" text-anchor="middle" textLength="16.5" lengthAdjust="spacingAndGlyphs" stroke="#1e1e1e" stroke-width="0.25" >PHASE</text>
<text x="717" y="447.5" font-family="Liberation Sans, sans-serif" font-size="6.8" font-weight="bold" fill="#1e1e1e" text-anchor="middle" textLength="19" lengthAdjust="spacingAndGlyphs" stroke="#1e1e1e" stroke-width="0.25" >FUTURE</text>
<text x="717" y="454.5" font-family="Liberation Sans, sans-serif" font-size="6.8" font-weight="bold" fill="#1e1e1e" text-anchor="middle" textLength="16.5" lengthAdjust="spacingAndGlyphs" stroke="#1e1e1e" stroke-width="0.25" >PHASE</text>
<text x="647" y="482.5" font-family="Liberation Sans, sans-serif" font-size="6.8" font-weight="bold" fill="#1e1e1e" text-anchor="middle" textLength="19" lengthAdjust="spacingAndGlyphs" stroke="#1e1e1e" stroke-width="0.25" >FUTURE</text>
<text x="647" y="489.5" font-family="Liberation Sans, sans-serif" font-size="6.8" font-weight="bold" fill="#1e1e1e" text-anchor="middle" textLength="16.5" lengthAdjust="spacingAndGlyphs" stroke="#1e1e1e" stroke-width="0.25" >PHASE</text>
<text x="757.5" y="518.5" font-family="Liberation Sans, sans-serif" font-size="6.8" font-weight="bold" fill="#1e1e1e" text-anchor="middle" textLength="19" lengthAdjust="spacingAndGlyphs" stroke="#1e1e1e" stroke-width="0.25" >FUTURE</text>
<text x="757.5" y="525.5" font-family="Liberation Sans, sans-serif" font-size="6.8" font-weight="bold" fill="#1e1e1e" text-anchor="middle" textLength="16.5" lengthAdjust="spacingAndGlyphs" stroke="#1e1e1e" stroke-width="0.25" >PHASE</text>
<text x="845.5" y="535.5" font-family="Liberation Sans, sans-serif" font-size="6.8" font-weight="bold" fill="#1e1e1e" text-anchor="middle" textLength="19" lengthAdjust="spacingAndGlyphs" stroke="#1e1e1e" stroke-width="0.25" >FUTURE</text>
<text x="845.5" y="542.5" font-family="Liberation Sans, sans-serif" font-size="6.8" font-weight="bold" fill="#1e1e1e" text-anchor="middle" textLength="16.5" lengthAdjust="spacingAndGlyphs" stroke="#1e1e1e" stroke-width="0.25" >PHASE</text>
<text x="718" y="394" font-family="Liberation Sans, sans-serif" font-size="6.8" font-weight="bold" fill="#46693c" text-anchor="middle" textLength="20" lengthAdjust="spacingAndGlyphs" stroke="#46693c" stroke-width="0.2" >POCKET</text>
<text x="718" y="401.8" font-family="Liberation Sans, sans-serif" font-size="6.8" font-weight="bold" fill="#46693c" text-anchor="middle" textLength="14" lengthAdjust="spacingAndGlyphs" stroke="#46693c" stroke-width="0.2" >PARK</text>
<text x="774.3" y="635.8" font-family="Liberation Sans, sans-serif" font-size="6.6" font-weight="bold" fill="#3b4a38" text-anchor="start" textLength="31.5" lengthAdjust="spacingAndGlyphs" stroke="#3b4a38" stroke-width="0.2" >EMERGENCY</text>
<text x="774.3" y="643.1" font-family="Liberation Sans, sans-serif" font-size="6.6" font-weight="bold" fill="#3b4a38" text-anchor="start" textLength="35" lengthAdjust="spacingAndGlyphs" stroke="#3b4a38" stroke-width="0.2" >ACCESS ONLY</text>
<text x="842.5" y="648.5" font-family="Liberation Sans, sans-serif" font-size="5.4" font-weight="bold" fill="#f6f6f6" text-anchor="start" textLength="64" lengthAdjust="spacingAndGlyphs" transform="rotate(-19.5 842.5 648.5)" stroke="#f6f6f6" stroke-width="0.1" >HIGHWAY 324 AUBURN ROAD</text>
<text x="208.5" y="161.5" font-family="Liberation Sans, sans-serif" font-size="5.2" font-weight="bold" fill="#f6f6f6" text-anchor="start" textLength="37" lengthAdjust="spacingAndGlyphs" transform="rotate(-28 208.5 161.5)" stroke="#f6f6f6" stroke-width="0.1" >JIM MOORE ROAD</text>
<text x="237" y="227.8" font-family="Liberation Sans, sans-serif" font-size="5.0" font-weight="bold" fill="#f6f6f6" text-anchor="start" textLength="36" lengthAdjust="spacingAndGlyphs" transform="rotate(-31 237 227.8)" stroke="#f6f6f6" stroke-width="0.1" >DUNNIGAN COURT</text>
<text x="480" y="260.5" font-family="Liberation Sans, sans-serif" font-size="5.0" font-weight="bold" fill="#f6f6f6" text-anchor="start" textLength="35" lengthAdjust="spacingAndGlyphs" transform="rotate(38 480 260.5)" stroke="#f6f6f6" stroke-width="0.1" >AUBURN GLEN ROAD</text>
<text x="333" y="262.5" font-family="Liberation Sans, sans-serif" font-size="4.8" font-weight="bold" fill="#f6f6f6" text-anchor="start" textLength="43" lengthAdjust="spacingAndGlyphs" transform="rotate(36.5 333 262.5)" stroke="#f6f6f6" stroke-width="0.1" >CALDWELL BEND LANE</text>
<text x="292.5" y="308" font-family="Liberation Sans, sans-serif" font-size="4.6" font-weight="bold" fill="#f6f6f6" text-anchor="start" textLength="37" lengthAdjust="spacingAndGlyphs" transform="rotate(-57 292.5 308)" stroke="#f6f6f6" stroke-width="0.1" >EASTMAN RUN DRIVE</text>
<text x="309" y="331" font-family="Liberation Sans, sans-serif" font-size="4.6" font-weight="bold" fill="#f6f6f6" text-anchor="start" textLength="26" lengthAdjust="spacingAndGlyphs" transform="rotate(38 309 331)" stroke="#f6f6f6" stroke-width="0.1" >PRIVET ALLEY</text>
<text x="361" y="351" font-family="Liberation Sans, sans-serif" font-size="4.6" font-weight="bold" fill="#f6f6f6" text-anchor="start" textLength="38" lengthAdjust="spacingAndGlyphs" transform="rotate(-55 361 351)" stroke="#f6f6f6" stroke-width="0.1" >MARTINS GLEN WAY</text>
<text x="671" y="482" font-family="Liberation Sans, sans-serif" font-size="4.4" font-weight="bold" fill="#f6f6f6" text-anchor="start" textLength="24" lengthAdjust="spacingAndGlyphs" transform="rotate(61 671 482)" stroke="#f6f6f6" stroke-width="0.1" >ROAD NAME</text>
<text x="770" y="479.5" font-family="Liberation Sans, sans-serif" font-size="4.4" font-weight="bold" fill="#f6f6f6" text-anchor="start" textLength="28" lengthAdjust="spacingAndGlyphs" transform="rotate(50 770 479.5)" stroke="#f6f6f6" stroke-width="0.1" >ROAD NAME</text>
<rect x="133.4" y="552.4" width="23.8" height="23.4" fill="#776a50"/>
<text x="145.3" y="569.4" font-family="Liberation Sans, sans-serif" font-size="15" font-weight="bold" fill="#fbf3e2" text-anchor="middle" textLength="19.5" lengthAdjust="spacingAndGlyphs" >MB</text>
<text x="165.4" y="569.2" font-family="Liberation Sans, sans-serif" font-size="17.5" font-weight="bold" fill="#1f1f1f" text-anchor="start" textLength="115.8" lengthAdjust="spacingAndGlyphs" stroke="#1f1f1f" stroke-width="0.45" >MAILBOX KIOSK</text>
<text x="165.4" y="599.4" font-family="Liberation Sans, sans-serif" font-size="17.5" font-weight="bold" fill="#1f1f1f" text-anchor="start" textLength="148" lengthAdjust="spacingAndGlyphs" stroke="#1f1f1f" stroke-width="0.45" >BUTTERFLY GARDEN</text>
<text x="165.4" y="629.4" font-family="Liberation Sans, sans-serif" font-size="17.5" font-weight="bold" fill="#1f1f1f" text-anchor="start" textLength="50.4" lengthAdjust="spacingAndGlyphs" stroke="#1f1f1f" stroke-width="0.45" >MODEL</text>
<circle cx="145.5" cy="622.2" r="12.3" fill="#f4f4f4" stroke="#2a2a2a" stroke-width="1.0"/>
<text x="145.5" y="629.2" font-family="Liberation Sans, sans-serif" font-size="16" font-weight="bold" fill="#1f1f1f" text-anchor="middle" textLength="13" lengthAdjust="spacingAndGlyphs" stroke="#1f1f1f" stroke-width="0.4" >M</text>
<g transform="translate(145,592.5)"><path d="M-1,-1 C-5,-6 -11,-7 -13,-6 C-11,-3 -8,0 -2,1 Z" fill="#e99a4a"/><path d="M1,-1 C5,-6 11,-7 13,-6 C11,-3 8,0 2,1 Z" fill="#e99a4a"/><path d="M-1.5,0.5 C-6,1 -9,4 -8,7 C-5,7 -3,4 -1,2 Z" fill="#f0b06a"/><path d="M1.5,0.5 C6,1 9,4 8,7 C5,7 3,4 1,2 Z" fill="#f0b06a"/><rect x="-0.8" y="-2.5" width="1.6" height="8" rx="0.8" fill="#3a2a1a"/></g>
<text x="422.6" y="551.7" font-family="Liberation Sans, sans-serif" font-size="16" font-weight="bold" fill="#4e4e4e" text-anchor="middle" textLength="10.6" lengthAdjust="spacingAndGlyphs" >N</text>
<polygon points="422.3,557.9 402.8,604.7 422.9,595.2 441.8,604.7" fill="#555"/>
<polygon points="422.2,568.5 411.3,597.0 422.2,590.8" fill="#ededed"/>
<rect x="0" y="682" width="104.7" height="35" fill="#5f5d5c"/>
<text x="1.6" y="707.8" font-family="Liberation Sans, sans-serif" font-size="17.6" font-weight="normal" fill="#f2f0ee" text-anchor="start" textLength="68.2" lengthAdjust="spacingAndGlyphs" stroke="#5f5d5c" stroke-width="0.45">GEORGIA</text>
<text x="70.2" y="707.8" font-family="Liberation Sans, sans-serif" font-size="17.6" font-weight="normal" fill="#b8a68d" text-anchor="start" textLength="31.8" lengthAdjust="spacingAndGlyphs" stroke="#5f5d5c" stroke-width="0.45">MLS</text>
<text x="14" y="715.9" font-family="Liberation Sans, sans-serif" font-size="6.2" font-weight="bold" fill="#98928b" text-anchor="start" textLength="78.4" lengthAdjust="spacingAndGlyphs" >REAL ESTATE SERVICES</text>
<polygon points="72,693.4 85.8,683.4 90,686.3 75.5,693.6" fill="#f7f5f2"/>
<polygon points="85.8,683.4 101.8,692.8 96.5,693.3 88.5,688" fill="#b8a68d"/>
</svg>
</body></html>
